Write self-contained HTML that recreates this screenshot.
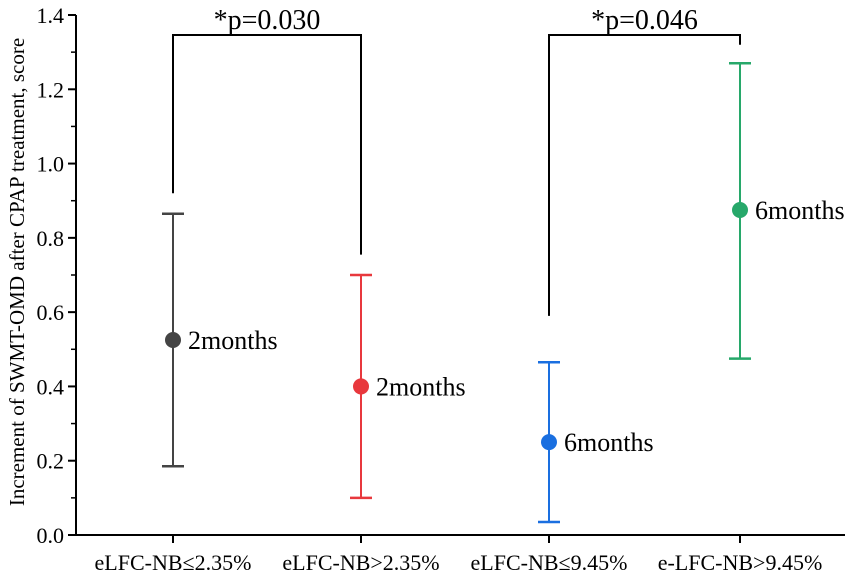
<!DOCTYPE html>
<html><head><meta charset="utf-8"><style>
html,body{margin:0;padding:0;background:#fff;}
svg text{font-family:"Liberation Serif",serif;fill:#000;}
</style></head><body>
<svg id="c" width="851" height="576"></svg>
<script>
const categories=["eLFC-NB\u22642.35%","eLFC-NB>2.35%","eLFC-NB\u22649.45%","e-LFC-NB>9.45%"];
const means=[0.525,0.40,0.25,0.875];
const lowers=[0.185,0.10,0.035,0.475];
const uppers=[0.865,0.70,0.465,1.27];
const pointLabels=["2months","2months","6months","6months"];
const colors=["#444444","#e8383d","#1a6fe0","#27a86a"];
const yTicks=[0,0.2,0.4,0.6,0.8,1.0,1.2,1.4];
const brackets=[{a:0,b:1,top:1.346,la:0.92,lb:0.755,text:"*p=0.030"},{a:2,b:3,top:1.346,la:0.59,lb:1.32,text:"*p=0.046"}];
const svg=document.getElementById('c');
const NS="http://www.w3.org/2000/svg";
const x0=76,x1=845,yb=535,yt=15;
const y=v=>yb-(v/1.4)*(yb-yt);
const xc=i=>[173,361,549,740][i];
function el(t,a,p){const e=document.createElementNS(NS,t);for(const k in a)e.setAttribute(k,a[k]);(p||svg).appendChild(e);return e;}
let e;
e=el('line',{x1:x0,y1:yb,x2:x1,y2:yb,stroke:'#000','stroke-width':2});


e=el('line',{x1:x0,y1:yb+1,x2:x0,y2:yt,stroke:'#000','stroke-width':2});


yTicks.forEach((v,i)=>{
 el('line',{x1:x0-8,y1:y(v),x2:x0,y2:y(v),stroke:'#000','stroke-width':2});
 if(i<yTicks.length-1){el('line',{x1:x0-5,y1:y(v+0.1),x2:x0,y2:y(v+0.1),stroke:'#000','stroke-width':1.5});}
 e=el('text',{x:x0-12,y:y(v)+8,'text-anchor':'end','font-size':22});
 e.textContent=v.toFixed(1);
 
 
});
categories.forEach((c,i)=>{
 el('line',{x1:xc(i),y1:yb,x2:xc(i),y2:yb+8,stroke:'#000','stroke-width':2});
 e=el('text',{x:xc(i),y:yb+35,'text-anchor':'middle','font-size':22});
 e.textContent=c;
 
 
 const g=el('g',{});
 
 
 const col=colors[i];
 el('line',{x1:xc(i),y1:y(lowers[i]),x2:xc(i),y2:y(uppers[i]),stroke:col,'stroke-width':2},g);
 el('line',{x1:xc(i)-11,y1:y(lowers[i]),x2:xc(i)+11,y2:y(lowers[i]),stroke:col,'stroke-width':2.5},g);
 el('line',{x1:xc(i)-11,y1:y(uppers[i]),x2:xc(i)+11,y2:y(uppers[i]),stroke:col,'stroke-width':2.5},g);
 const p=el('circle',{cx:xc(i),cy:y(means[i]),r:8,fill:col},g);
 
 
 e=el('text',{x:xc(i)+15,y:y(means[i])+9,'font-size':26});
 e.textContent=pointLabels[i];
 
 
});
brackets.forEach(b=>{
 const g=el('g',{});
 
 
 el('polyline',{points:`${xc(b.a)},${y(b.la)} ${xc(b.a)},${y(b.top)} ${xc(b.b)},${y(b.top)} ${xc(b.b)},${y(b.lb)}`,fill:'none',stroke:'#000','stroke-width':2},g);
 const t=el('text',{x:(xc(b.a)+xc(b.b))/2,y:y(b.top)-6,'text-anchor':'middle','font-size':28},g);
 t.textContent=b.text;
});
e=el('text',{transform:'translate(24,272) rotate(-90)','text-anchor':'middle','font-size':21});
e.textContent="Increment of SWMT-OMD after CPAP treatment, score";


</script>
</body></html>
